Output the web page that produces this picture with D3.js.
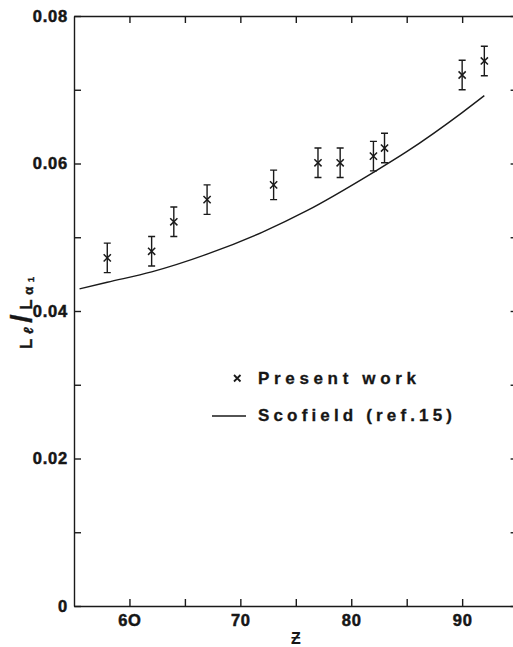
<!DOCTYPE html>
<html>
<head>
<meta charset="utf-8">
<script src="https://cdn.jsdelivr.net/npm/d3@7"></script>
<style>
  body { margin: 0; background: #fff; }
  svg text { font-family: "Liberation Sans", Arial, sans-serif; font-weight: bold; fill: #161616; }
</style>
</head>
<body>
<div id="chart"></div>
<script>
// measured points (Present work)
var zValues = [58, 62, 64, 67, 73, 77, 79, 82, 83, 90, 92];
var ratioValues = [0.0472, 0.0481, 0.0521, 0.0551, 0.0571, 0.0601, 0.0601, 0.0610, 0.0621, 0.0720, 0.0739];
var ratioErrors = [0.002, 0.002, 0.002, 0.002, 0.002, 0.002, 0.002, 0.002, 0.002, 0.002, 0.002];
// Scofield (ref.15) theory curve
var theoryZ = [55.5, 58, 62, 67, 72, 76, 82, 85, 90, 92];
var theoryValues = [0.0430, 0.0439, 0.0453, 0.0477, 0.0507, 0.0536, 0.0588, 0.0616, 0.0669, 0.0692];
// ticks
var xTicks = [60, 65, 70, 75, 80, 85, 90];
var xTickLabels = {60: "6O", 70: "70", 80: "80", 90: "90"};
var yTicks = [0, 0.01, 0.02, 0.03, 0.04, 0.05, 0.06, 0.07, 0.08];
var yTickLabels = {0: "0", 0.02: "0.02", 0.04: "0.04", 0.06: "0.06", 0.08: "0.08"};

var W = 513, H = 647;
var svg = d3.select("#chart").append("svg")
    .attr("width", W)
    .attr("height", H);
svg.append("rect").attr("width", W).attr("height", H).attr("fill", "#fff");

var x = d3.scaleLinear().domain([55, 95]).range([74, 517.6]);
var y = d3.scaleLinear().domain([0, 0.08]).range([606, 16]);
var ink = "#1a1a1a";

function styleAxis(g){
    g.attr("font-family", null).attr("font-size", null);
    g.select(".domain").attr("stroke", ink).attr("stroke-width", 1.4);
    g.selectAll(".tick line").attr("stroke", ink).attr("stroke-width", 1.4);
    g.selectAll(".tick text")
        .attr("fill", "#161616")
        .attr("stroke", "#161616")
        .attr("stroke-width", 0.5)
        .attr("font-family", "Liberation Sans, Arial, sans-serif")
        .attr("font-weight", "bold")
        .attr("font-size", 16.5)
        .style("letter-spacing", "0.8px");
}

//left axis
svg.append("g")
    .attr("transform", "translate(" + x(55) + ",0)")
    .call(d3.axisLeft(y).tickValues(yTicks).tickSize(-7).tickSizeOuter(0).tickPadding(6)
        .tickFormat(function(d){ return yTickLabels[Math.round(d*100)/100] || ""; }))
    .call(styleAxis);

//bottom axis
svg.append("g")
    .attr("transform", "translate(0," + y(0) + ")")
    .call(d3.axisBottom(x).tickValues(xTicks).tickSize(-7).tickSizeOuter(0).tickPadding(8)
        .tickFormat(function(d){ return xTickLabels[d] || ""; }))
    .call(styleAxis);

//top axis
svg.append("g")
    .attr("transform", "translate(0," + y(0.08) + ")")
    .call(d3.axisTop(x).tickValues(xTicks).tickSize(-7).tickSizeOuter(0).tickFormat(""))
    .call(styleAxis);

//right axis (mostly outside the picture)
svg.append("g")
    .attr("transform", "translate(" + x(95) + ",0)")
    .call(d3.axisRight(y).tickValues(yTicks).tickSize(-7).tickSizeOuter(0).tickFormat(""))
    .call(styleAxis);

//theory line
var line = d3.line()
    .x(function(d){ return x(d[0]); })
    .y(function(d){ return y(d[1]); })
    .curve(d3.curveMonotoneX);
svg.append("path")
    .datum(d3.zip(theoryZ, theoryValues))
    .attr("fill", "none")
    .attr("stroke", ink)
    .attr("stroke-width", 1.4)
    .attr("d", line);

//points with error bars
var pts = svg.append("g").selectAll("g")
    .data(d3.zip(zValues, ratioValues, ratioErrors))
    .enter().append("g");
pts.append("path")
    .attr("fill", "none").attr("stroke", ink).attr("stroke-width", 1.4)
    .attr("d", function(d){
        var cx = x(d[0]), t = y(d[1] + d[2]), b = y(d[1] - d[2]), c = 3.5;
        return "M" + cx + "," + t + " L" + cx + "," + b +
            " M" + (cx - c) + "," + t + " L" + (cx + c) + "," + t +
            " M" + (cx - c) + "," + b + " L" + (cx + c) + "," + b;
    });
pts.append("path")
    .attr("fill", "none").attr("stroke", ink).attr("stroke-width", 1.5)
    .attr("d", function(d){
        var cx = x(d[0]), cy = y(d[1]), s = 3.6;
        return "M" + (cx - s) + "," + (cy - s) + " L" + (cx + s) + "," + (cy + s) +
            " M" + (cx - s) + "," + (cy + s) + " L" + (cx + s) + "," + (cy - s);
    });

//legend
svg.append("path")
    .attr("fill", "none").attr("stroke", ink).attr("stroke-width", 1.8)
    .attr("d", "M234,375 L240.5,381.5 M234,381.5 L240.5,375");
svg.append("text").attr("x", 258).attr("y", 384)
    .attr("textLength", 158).attr("lengthAdjust", "spacing")
    .attr("stroke", "#161616").attr("stroke-width", 0.3)
    .style("font-size", "17px")
    .text("Present work");
svg.append("line")
    .attr("x1", 212).attr("x2", 246).attr("y1", 416).attr("y2", 416)
    .attr("stroke", ink).attr("stroke-width", 1.6);
svg.append("text").attr("x", 258).attr("y", 421)
    .attr("textLength", 194).attr("lengthAdjust", "spacing")
    .attr("stroke", "#161616").attr("stroke-width", 0.3)
    .style("font-size", "17px")
    .text("Scofield (ref.15)");

//x axis title
svg.append("text").attr("x", 296).attr("y", 644)
    .attr("text-anchor", "middle")
    .style("font-size", "16px")
    .text("Ƶ");

//y axis title
var yl = svg.append("text")
    .attr("transform", "translate(32,349) rotate(-90)")
    .attr("textLength", 72).attr("lengthAdjust", "spacing")
    .attr("stroke", "#161616").attr("stroke-width", 0.4)
    .style("font-size", "17px");
yl.append("tspan").text("L");
yl.append("tspan").attr("dy", 1).style("font-size", "13px").style("font-style", "italic").text("ℓ");
yl.append("tspan").attr("dy", -1).style("font-size", "30px").text("/");
yl.append("tspan").text("L");
yl.append("tspan").attr("dy", 1).style("font-size", "13px").text("α");
yl.append("tspan").attr("dy", 1).style("font-size", "9px").text("1");
</script>
</body>
</html>
